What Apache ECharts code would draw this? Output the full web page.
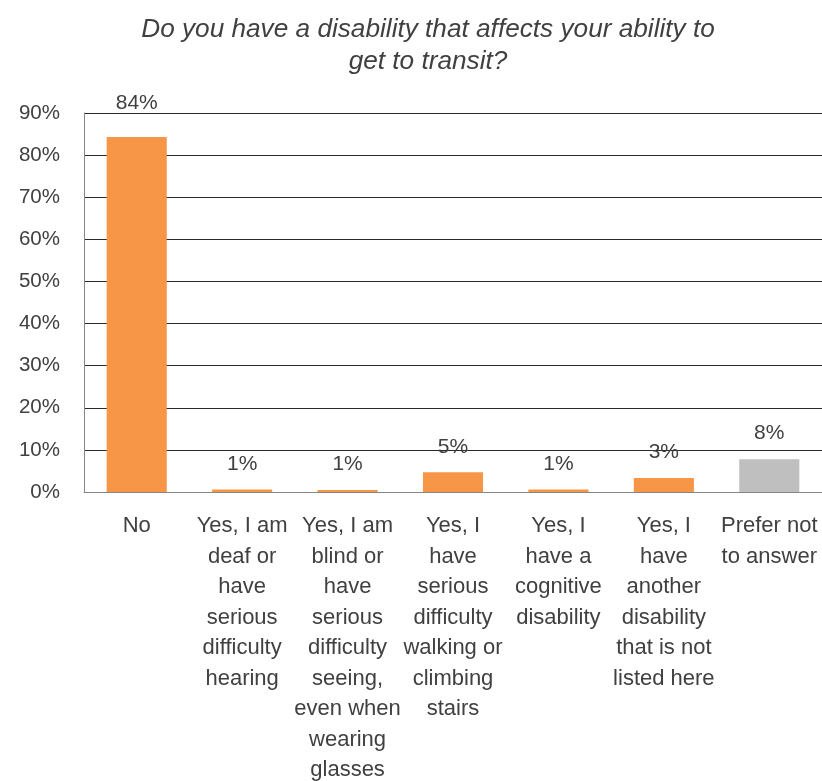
<!DOCTYPE html>
<html><head><meta charset="utf-8">
<script src="https://cdn.jsdelivr.net/npm/echarts@6/dist/echarts.min.js"></script>
<style>html,body{margin:0;padding:0;background:#fff}#c{width:822px;height:781px}</style>
</head><body><div id="c"></div>
<script>
const categories = [
  "No",
  "Yes, I am\ndeaf or\nhave\nserious\ndifficulty\nhearing",
  "Yes, I am\nblind or\nhave\nserious\ndifficulty\nseeing,\neven when\nwearing\nglasses",
  "Yes, I\nhave\nserious\ndifficulty\nwalking or\nclimbing\nstairs",
  "Yes, I\nhave a\ncognitive\ndisability",
  "Yes, I\nhave\nanother\ndisability\nthat is not\nlisted here",
  "Prefer not\nto answer"
];
const values = [84.3, 0.6, 0.5, 4.7, 0.6, 3.3, 7.8];
const barColors = ["#F79646", "#F79646", "#F79646", "#F79646", "#F79646", "#F79646", "#BFBFBF"];
const yTicks = [0, 10, 20, 30, 40, 50, 60, 70, 80, 90];

const font = "'Liberation Sans Narrow', 'Liberation Sans', Arial, sans-serif";
const chart = echarts.init(document.getElementById('c'), null, {renderer: 'canvas'});
chart.setOption({
  animation: false,
  title: {
    text: "Do you have a disability that affects your ability to\nget to transit?",
    left: 428, top: 14, textAlign: 'center', padding: 0,
    textStyle: {fontFamily: "'Liberation Sans', Arial, sans-serif", fontStyle: 'italic', fontWeight: 'normal', fontSize: 26.2, color: '#404040', lineHeight: 32}
  },
  grid: {left: 84, right: 0, top: 113, bottom: 289, containLabel: false, outerBoundsMode: 'none'},
  xAxis: {
    type: 'category', data: categories,
    axisLine: {show: true, lineStyle: {color: '#868686', width: 1}},
    axisTick: {show: false},
    axisLabel: {interval: 0, fontFamily: font, fontSize: 22, color: '#404040', lineHeight: 30.5, margin: 19, align: 'center'}
  },
  yAxis: {
    type: 'value', min: yTicks[0], max: yTicks[yTicks.length - 1], interval: 10,
    axisLine: {show: true, lineStyle: {color: '#868686', width: 1}},
    axisTick: {show: false},
    splitLine: {show: true, lineStyle: {color: '#2a2a2a', width: 1}},
    axisLabel: {formatter: '{value}%', fontFamily: font, fontSize: 20.5, color: '#404040', margin: 24}
  },
  series: [{
    type: 'bar',
    data: values.map((v, i) => {
      const item = {value: v, itemStyle: {color: barColors[i]}};
      if (v > 50) item.label = {distance: 23};
      return item;
    }),
    barWidth: '57%',
    label: {
      show: true, position: 'top', distance: 15,
      formatter: p => Math.round(p.value) + '%',
      fontFamily: font, fontSize: 21, color: '#404040'
    }
  }]
});
</script></body></html>
